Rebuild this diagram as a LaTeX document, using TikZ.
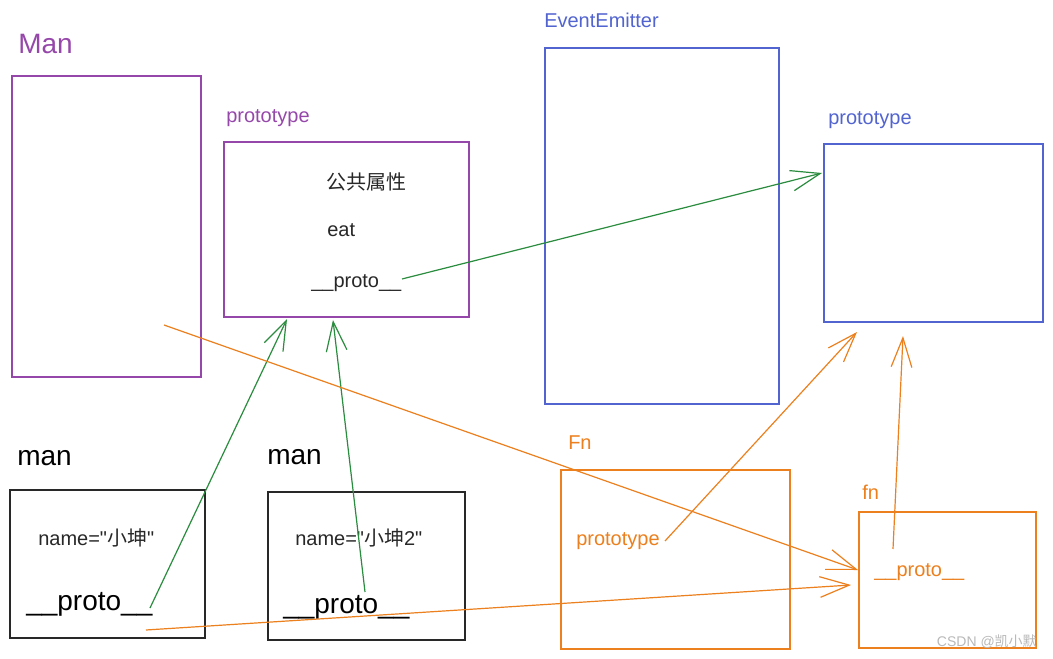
\documentclass[tikz,border=0pt]{standalone}
\usepackage{fontspec}
\setmainfont{Liberation Sans}
\newfontfamily\cjk{Noto Sans CJK SC}
\usepackage{tikz}
\usetikzlibrary{arrows.meta}
\definecolor{lila}{RGB}{150,72,170}
\definecolor{azulado}{RGB}{82,100,208}
\definecolor{naranja}{RGB}{236,128,30}
\definecolor{verde}{RGB}{42,140,62}
\definecolor{tinta}{RGB}{40,40,40}

\begin{document}
\begin{tikzpicture}[x=0.75pt,y=-0.75pt,
caja/.style={draw,line width=1.25pt,inner sep=0pt},
titulo/.style={anchor=base west,inner sep=0pt,font=\fontsize{15}{18}\selectfont},
grande/.style={anchor=base west,inner sep=0pt,font=\fontsize{21}{25}\selectfont},
flecha/.style={-{Straight Barb[length=22pt,width=15.5pt]},line width=0.9pt}
]
\path[fill=white,use as bounding box] (0,0) rectangle (1053,659);

% cajas
\node[caja,draw=lila,minimum width=141.75pt,minimum height=225.75pt] (man) at (106.5,226.5) {};
\node[caja,draw=lila,minimum width=183.75pt,minimum height=131.25pt] (protoMan) at (346.5,229.5) {};
\node[caja,draw=azulado,minimum width=175.5pt,minimum height=267pt] (emisor) at (662,226) {};
\node[caja,draw=azulado,minimum width=164.25pt,minimum height=133.5pt] (protoEmisor) at (933.5,233) {};
\node[caja,draw=tinta,line width=1.4pt,minimum width=146.25pt,minimum height=111pt] (obj1) at (107.5,564) {};
\node[caja,draw=tinta,line width=1.4pt,minimum width=147.75pt,minimum height=111pt] (obj2) at (366.5,566) {};
\node[caja,draw=naranja,minimum width=171.75pt,minimum height=134.25pt] (clsFn) at (675.5,559.5) {};
\node[caja,draw=naranja,minimum width=132.75pt,minimum height=102pt] (objFn) at (947.5,580) {};

% textos
\node[grande,text=lila] (tMan) at (18,54) {Man};
\node[titulo,text=lila] (tProtoMan) at (226,123) {prototype};
\node[titulo,anchor=center,text=tinta] (tComun) at (366,182) {\cjk 公共属性};
\node[titulo,text=tinta] (tEat) at (327,237) {eat};
\node[titulo,text=tinta] (tPm) at (311,288) {\_\_proto\_\_};
\node[titulo,text=azulado] (tEmisor) at (544,28) {EventEmitter};
\node[titulo,text=azulado] (tProtoEmisor) at (828,125) {prototype};
\node[grande] (tObj1) at (17,465) {man};
\node[grande] (tObj2) at (267,464) {man};
\node[titulo,text=tinta] (nombre1) at (38,545) {name=\textquotedbl{\cjk 小坤}\textquotedbl};
\node[grande] (tP1) at (26,610) {\_\_proto\_\_};
\node[titulo,text=tinta] (nombre2) at (295,545) {name=\textquotedbl{\cjk 小坤}2\textquotedbl};
\node[grande] (tP2) at (283,613) {\_\_proto\_\_};
\node[titulo,text=naranja] (tFn) at (568,449) {Fn};
\node[titulo,text=naranja] (tProtoFn) at (576,545) {prototype};
\node[titulo,text=naranja] (tfn) at (862,499) {fn};
\node[titulo,text=naranja] (tPfn) at (874,576) {\_\_proto\_\_};
\node[anchor=base east,inner sep=0pt,text=gray!55,font=\fontsize{10.5}{12}\selectfont] (marca) at (1037,646) {CSDN @{\cjk 凯小默}};

% extremos de flechas
\coordinate (a1) at (150,608);
\coordinate (b1) at (287,319);
\coordinate (a2) at (365,592);
\coordinate (b2) at (333,320);
\coordinate (a3) at (402,279);
\coordinate (b3) at (822,173);
\coordinate (a4) at (164,325);
\coordinate (b4) at (858,570);
\coordinate (a5) at (146,630);
\coordinate (b5) at (851,585);
\coordinate (a6) at (665,541);
\coordinate (b6) at (857,332);
\coordinate (a7) at (893,549);
\coordinate (b7) at (903,336);

\draw[flecha,verde] (a1) -- (b1);
\draw[flecha,verde] (a2) -- (b2);
\draw[flecha,verde] (a3) -- (b3);
\draw[flecha,naranja] (a4) -- (b4);
\draw[flecha,naranja] (a5) -- (b5);
\draw[flecha,naranja] (a6) -- (b6);
\draw[flecha,naranja] (a7) -- (b7);
\end{tikzpicture}
\end{document}
